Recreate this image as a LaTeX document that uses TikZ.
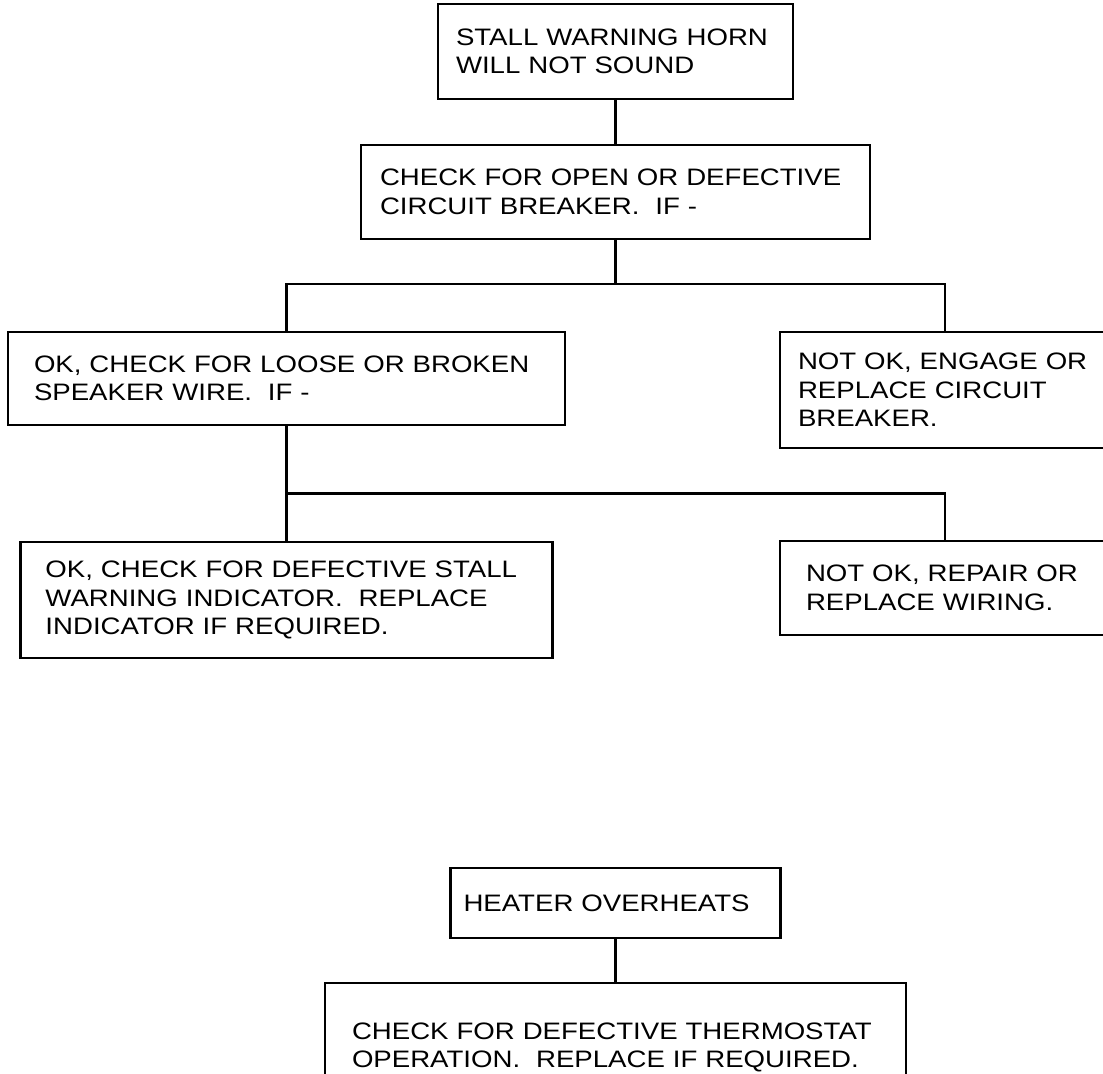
\documentclass[tikz,border=0pt]{standalone}
\usepackage{fontspec}
\setmainfont{Liberation Sans}[FakeStretch=1.16]
\begin{document}
\begin{tikzpicture}[x=0.5pt, y=-0.5pt,
  box/.style={draw, line width=1.4pt, align=left, inner ysep=0pt,
    font=\fontsize{11.9}{14.25}\selectfont},
  link/.style={line width=1.4pt}]
  \useasboundingbox (0,0) rectangle (1103,1074);
  \clip (0,0) rectangle (1103,1074);

  % Stall warning horn
  \node[box, inner xsep=9pt, text width=159.5pt, minimum height=47.5pt] (horn) at (615.5,51.5)
    {STALL WARNING HORN\\WILL NOT SOUND};
  \node[box, inner xsep=9.5pt, text width=235.5pt, minimum height=47pt] (breaker) at (615.5,192)
    {CHECK FOR OPEN OR DEFECTIVE\\CIRCUIT BREAKER.\ \ IF -};

  % First split
  \node[box, inner xsep=13pt, text width=252.5pt, minimum height=46.5pt] (wire) at (286.5,378.5)
    {OK, CHECK FOR LOOSE OR BROKEN\\SPEAKER WIRE.\ \ IF -};
  \node[box, inner xsep=9pt, text width=147pt, minimum height=58pt] (engage) at (945,390)
    {NOT OK, ENGAGE OR\\REPLACE CIRCUIT\\BREAKER.};

  % Second split
  \node[box, inner xsep=12.5pt, text width=241pt, minimum height=58pt] (indicator) at (286.5,600)
    {OK, CHECK FOR DEFECTIVE STALL\\WARNING INDICATOR.\ \ REPLACE\\INDICATOR IF REQUIRED.};
  \node[box, inner xsep=13pt, text width=139pt, minimum height=47pt] (wiring) at (945,588)
    {NOT OK, REPAIR OR\\REPLACE WIRING.};

  \coordinate (fork1) at (615.5,284);
  \coordinate (fork2) at (286.5,493.5);

  \draw[link] (horn.south) -- (breaker.north);
  \draw[link] (breaker.south) -- (fork1);
  \draw[link] (wire.north) |- (fork1) -| (engage.north);
  \draw[link] (wire.south) -- (indicator.north);
  \draw[link] (fork2) -| (wiring.north);

  % Heater overheats
  \node[box, inner xsep=6.5pt, text width=152pt, minimum height=35pt] (heater) at (615.5,903)
    {HEATER OVERHEATS};
  \node[box, inner xsep=13.5pt, text width=263.5pt, minimum height=64.5pt] (thermo) at (615.5,1047.5)
    {CHECK FOR DEFECTIVE THERMOSTAT\\OPERATION.\ \ REPLACE IF REQUIRED.};

  \draw[link] (heater.south) -- (thermo.north);
\end{tikzpicture}
\end{document}
